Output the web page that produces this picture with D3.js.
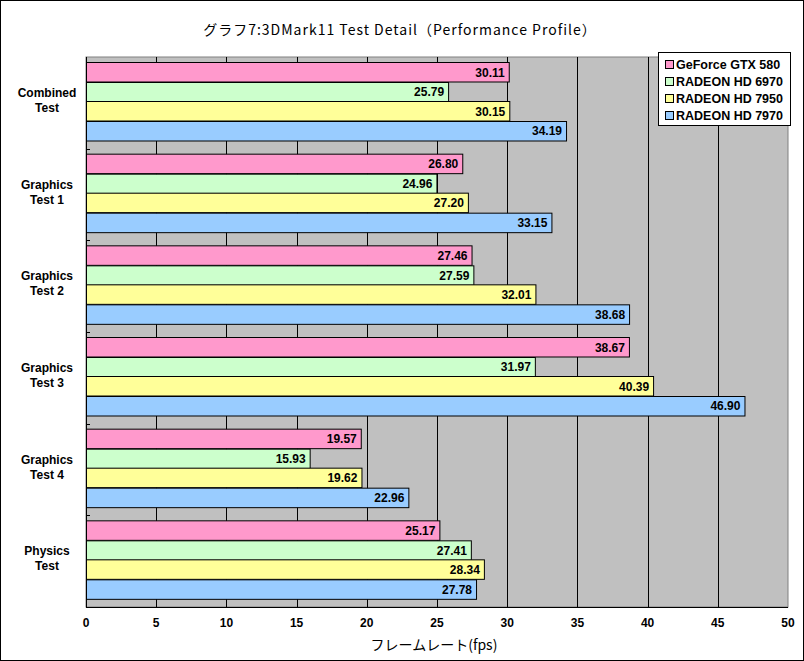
<!DOCTYPE html>
<html lang="ja">
<head>
<meta charset="UTF-8">
<title>3DMark11 Test Detail</title>
<script src="https://d3js.org/d3.v7.min.js"></script>
<style>
  body { margin: 0; background: #fff; }
  svg { display: block; font-family: "Liberation Sans Narrow", "Liberation Sans", Arial, sans-serif; }
  .bold { font-weight: bold; }
</style>
</head>
<body>
<div id="chart"></div>
<script>
// data
const categories = ["Combined Test", "Graphics Test 1", "Graphics Test 2", "Graphics Test 3", "Graphics Test 4", "Physics Test"];
const series = ["GeForce GTX 580", "RADEON HD 6970", "RADEON HD 7950", "RADEON HD 7970"];
const gtx580 = [30.11, 26.80, 27.46, 38.67, 19.57, 25.17];
const hd6970 = [25.79, 24.96, 27.59, 31.97, 15.93, 27.41];
const hd7950 = [30.15, 27.20, 32.01, 40.39, 19.62, 28.34];
const hd7970 = [34.19, 33.15, 38.68, 46.90, 22.96, 27.78];
const xTicks = [0, 5, 10, 15, 20, 25, 30, 35, 40, 45, 50];
const colors = ["#ff99cc", "#ccffcc", "#ffff99", "#99ccff"];

const values = [gtx580, hd6970, hd7950, hd7970];

const W = 804, H = 661;
const plot = { left: 86, right: 788, top: 57, bottom: 607 };

const svg = d3.select("#chart").append("svg")
    .attr("width", W).attr("height", H);

// outer frame
svg.append("rect")
    .attr("x", 0.5).attr("y", 0.5)
    .attr("width", W - 1).attr("height", H - 1)
    .attr("fill", "#fff").attr("stroke", "#000");

const x = d3.scaleLinear().domain([0, 50]).range([plot.left, plot.right]);
const y0 = d3.scaleBand().domain(categories).range([plot.top, plot.bottom]);
const y1 = d3.scaleBand().domain(series).range([5, 5 + 78]);

// plot area
svg.append("rect")
    .attr("x", plot.left).attr("y", plot.top)
    .attr("width", plot.right - plot.left).attr("height", plot.bottom - plot.top)
    .attr("fill", "#c0c0c0").attr("stroke", "#808080");

// vertical grid lines
svg.append("g").selectAll("line")
    .data(xTicks.slice(1, -1))
    .join("line")
    .attr("x1", d => Math.round(x(d)) + 0.5).attr("x2", d => Math.round(x(d)) + 0.5)
    .attr("y1", plot.top).attr("y2", plot.bottom)
    .attr("stroke", "#000");

// bars
const groups = svg.append("g").selectAll("g")
    .data(categories)
    .join("g")
    .attr("transform", d => `translate(0,${y0(d)})`);

const bars = groups.selectAll("g")
    .data((c, i) => series.map((s, j) => ({ s, j, v: values[j][i] })))
    .join("g");

bars.append("rect")
    .attr("x", x(0) + 0.5)
    .attr("y", d => Math.round(y1(d.s)) + 0.5)
    .attr("width", d => x(d.v) - x(0))
    .attr("height", y1.bandwidth())
    .attr("fill", d => colors[d.j])
    .attr("stroke", "#000");

bars.append("text")
    .attr("class", "bold")
    .attr("x", d => x(d.v) - 4)
    .attr("y", d => y1(d.s) + y1.bandwidth() / 2 + 5)
    .attr("text-anchor", "end")
    .attr("font-size", 12)
    .text(d => d.v.toFixed(2));

// category tick marks
svg.append("g").selectAll("line")
    .data(categories.slice(1))
    .join("line")
    .attr("x1", plot.left).attr("x2", plot.left + 4)
    .attr("y1", d => Math.round(y0(d)) + 0.5).attr("y2", d => Math.round(y0(d)) + 0.5)
    .attr("stroke", "#000");

// axis lines
svg.append("line")
    .attr("x1", plot.left + 0.5).attr("x2", plot.left + 0.5)
    .attr("y1", plot.top).attr("y2", plot.bottom)
    .attr("stroke", "#000");
svg.append("line")
    .attr("x1", plot.left).attr("x2", plot.right)
    .attr("y1", plot.bottom + 0.5).attr("y2", plot.bottom + 0.5)
    .attr("stroke", "#000");

// category labels
const catLabels = svg.append("g").selectAll("text")
    .data(categories)
    .join("text")
    .attr("class", "bold")
    .attr("font-size", 12)
    .attr("text-anchor", "middle")
    .attr("transform", d => `translate(47,${y0(d) + y0.bandwidth() / 2 - 6})`);
catLabels.each(function(d) {
    const parts = [d.split(" ")[0], d.split(" ").slice(1).join(" ")];
    d3.select(this).selectAll("tspan")
        .data(parts)
        .join("tspan")
        .attr("x", 0)
        .attr("dy", (p, i) => i === 0 ? 0 : 15)
        .text(p => p);
});

// x tick labels
svg.append("g").selectAll("text")
    .data(xTicks)
    .join("text")
    .attr("class", "bold")
    .attr("x", d => x(d))
    .attr("y", 627)
    .attr("text-anchor", "middle")
    .attr("font-size", 12)
    .text(d => d);

// axis title
svg.append("text")
    .attr("x", 434).attr("y", 650)
    .attr("text-anchor", "middle")
    .attr("font-size", 14)
    .style("font-family", "'Noto Sans CJK JP', sans-serif")
    .text("フレームレート(fps)");

// title
svg.append("text")
    .attr("x", 400).attr("y", 35)
    .attr("text-anchor", "middle")
    .attr("font-size", 14)
    .attr("letter-spacing", 1)
    .style("font-family", "'Noto Sans CJK JP', sans-serif")
    .text("グラフ7:3DMark11 Test Detail（Performance Profile）");

// legend
const lg = svg.append("g").attr("transform", "translate(658,52)");
lg.append("rect")
    .attr("x", 0.5).attr("y", 0.5)
    .attr("width", 132).attr("height", 73)
    .attr("fill", "#fff").attr("stroke", "#000");
const items = lg.selectAll("g.item")
    .data(series)
    .join("g")
    .attr("class", "item")
    .attr("transform", (d, i) => `translate(7,${8 + i * 17})`);
items.append("rect")
    .attr("x", 0.5).attr("y", 0.5)
    .attr("width", 8).attr("height", 8)
    .attr("fill", (d, i) => colors[i]).attr("stroke", "#000");
items.append("text")
    .attr("class", "bold")
    .attr("x", 11).attr("y", 9)
    .attr("font-size", 12.5)
    .text(d => d);
</script>
</body>
</html>
